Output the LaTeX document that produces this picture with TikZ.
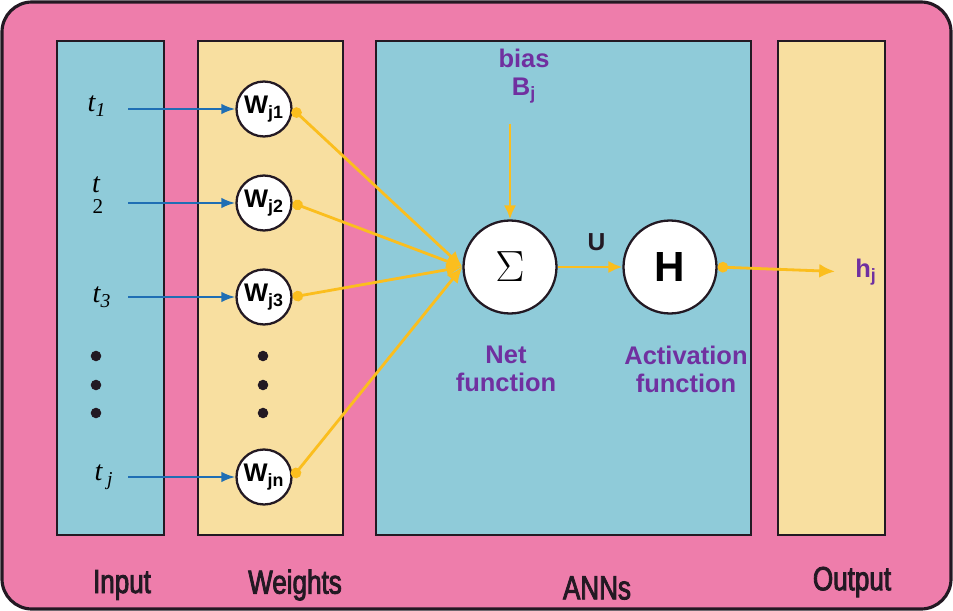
\documentclass[tikz,border=0pt]{standalone}
\usepackage{fontspec}
\setmainfont{Liberation Sans}
\newfontfamily\narrowfont[FakeStretch=0.78,FakeBold=2.5]{Liberation Sans}
\newfontfamily\timesfont{Liberation Serif}
\usetikzlibrary{arrows.meta}
\definecolor{annpink}{RGB}{238,125,171}
\definecolor{annblue}{RGB}{143,203,217}
\definecolor{annsand}{RGB}{248,223,160}
\definecolor{annline}{RGB}{251,190,30}
\definecolor{annarrow}{RGB}{31,110,180}
\definecolor{annpurple}{RGB}{112,48,160}
\definecolor{annedge}{RGB}{35,25,35}
\tikzset{
  panel/.style={draw=annedge, line width=1.4pt},
  wnode/.style={circle, draw=annedge, fill=white, line width=1.3pt, minimum size=1.1cm, inner sep=0pt, font=\bfseries\fontsize{14.5}{14.5}\selectfont},
  bignode/.style={circle, draw=annedge, fill=white, line width=1.3pt, minimum size=1.86cm, inner sep=0pt},
  inarrow/.style={draw=annarrow, line width=1.3pt, -{Latex[length=8pt,width=6pt]}},
  yarrow/.style={draw=annline, line width=1.6pt, -{Latex[length=8pt,width=7pt]}},
  ydot/.style={yarrow, {Circle[length=6pt]}-{Latex[length=9pt,width=8pt]}},
  purple/.style={text=annpurple, font=\bfseries\fontsize{14.5}{16}\selectfont, align=center},
  tlabel/.style={font=\timesfont\itshape\fontsize{16}{16}\selectfont},
  panelname/.style={text=annedge, font=\narrowfont\fontsize{19}{19}\selectfont},
  vdot/.style={circle, fill=annedge, inner sep=0pt, minimum size=6pt}
}
\begin{document}
\begin{tikzpicture}[x=0.02cm,y=-0.02cm]
  \useasboundingbox (0,0) rectangle (953,611);
  % background and panels
  \draw[draw=annedge, fill=annpink, line width=1.8pt, rounded corners=0.6cm] (2,2) rectangle (951,609);
  \draw[panel, fill=annblue] (57,41) rectangle (164,535);
  \draw[panel, fill=annsand] (198,41) rectangle (343,535);
  \draw[panel, fill=annblue] (376,41) rectangle (751,535);
  \draw[panel, fill=annsand] (778,41) rectangle (885,535);
  \node[panelname] (input) at (122,585) {Input};
  \node[panelname] (weights) at (295,585) {Weights};
  \node[panelname] (anns) at (597,588) {ANNs};
  \node[panelname] (output) at (852,582) {Output};

  % inputs
  \node[tlabel] (t1) at (97,106) {t\textsubscript{\itshape 1}};
  \node[tlabel, inner sep=0pt] (t2) at (96,185) {t};
  \node[font=\timesfont\fontsize{12}{12}\selectfont, inner sep=0pt] (t2sub) at (98,207) {2};
  \node[tlabel] (t3) at (102,297) {t\textsubscript{3}};
  \node[tlabel] (tj) at (104,477) {t\,\textsubscript{j}};
  \foreach \y in {356,385,413} {
    \node[vdot] at (96,\y) {};
    \node[vdot] at (263,\y) {};
  }

  % weights
  \node[wnode] (w1) at (264,109) {W\textsubscript{j1}};
  \node[wnode] (w2) at (264,203) {W\textsubscript{j2}};
  \node[wnode] (w3) at (264,297) {W\textsubscript{j3}};
  \node[wnode] (wn) at (264,477) {W\textsubscript{jn}};
  \foreach \w/\y in {w1/109,w2/203,w3/297,wn/477} {
    \coordinate (s\w) at (128,\y);
    \draw[inarrow] (s\w) -- (\w.west);
  }

  % net and activation
  \node[bignode] (sigma) at (510,267) {\fontsize{28}{28}\selectfont$\Sigma$};
  \node[bignode] (act) at (670,267) {\bfseries\fontsize{24}{24}\selectfont H};
  \node[purple] (bias) at (524,76) {bias\\B\textsubscript{j}};
  \node[purple] (net) at (506,369) {Net\\function};
  \node[purple] (actname) at (686,369) {Activation\\function};
  \foreach \w in {w1,w2,w3,wn}
    \draw[ydot] (\w.east) -- (sigma.west);
  \draw[yarrow, shorten <=8pt] (sigma.north |- bias.south) -- (sigma.north);
  \draw[yarrow] (sigma.east) -- node[above=5pt, pos=0.6, font=\bfseries\fontsize{14}{14}\selectfont, text=annedge] (u) {U} (act.west);
  \node[purple] (hj) at (866,272) {h\textsubscript{j}};
  \draw[ydot, shorten >=8pt] (act.east) -- (hj.west);
\end{tikzpicture}
\end{document}
